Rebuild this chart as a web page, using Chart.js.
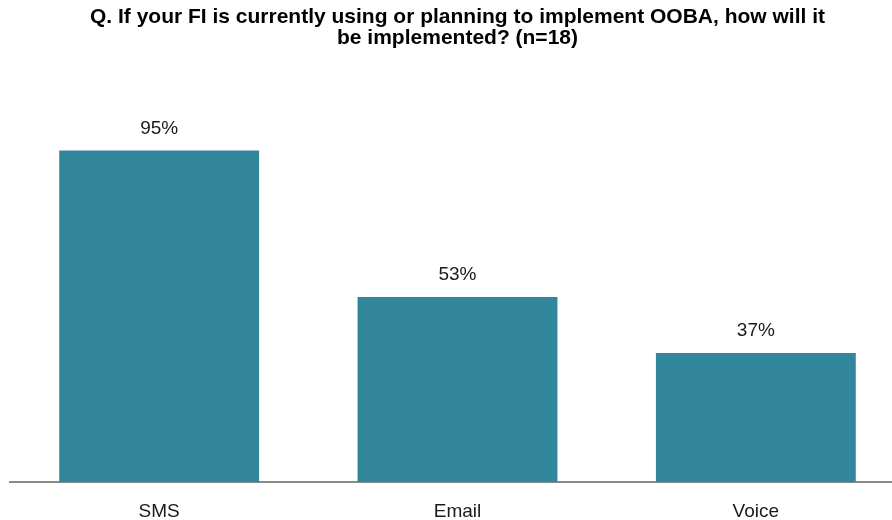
<!DOCTYPE html>
<html>
<head>
<meta charset="utf-8">
<script src="https://cdn.jsdelivr.net/npm/chart.js@4/dist/chart.umd.min.js"></script>
<style>
  html, body { margin: 0; padding: 0; background: #fff; overflow: hidden; }
  #wrap { width: 906px; height: 520px; }
</style>
</head>
<body>
<div id="wrap"><canvas id="ooba-canvas"></canvas></div>
<script>
var channels = ["SMS", "Email", "Voice"];
var shares = [95, 53, 37];
var titleLines = [
  "Q. If your FI is currently using or planning to implement OOBA, how will it",
  "be implemented? (n=18)",
];

var fontFamily = "'Liberation Sans', Arial, sans-serif";

// value labels above each bar
var valueLabels = {
  id: "valueLabels",
  afterDatasetsDraw: function (chart) {
    var ctx = chart.ctx;
    var meta = chart.getDatasetMeta(0);
    ctx.save();
    ctx.font = "19px " + fontFamily;
    ctx.fillStyle = "#1a1a1a";
    ctx.textAlign = "center";
    ctx.textBaseline = "middle";
    meta.data.forEach(function (bar, i) {
      ctx.fillText(shares[i] + "%", bar.x, bar.y - 22);
    });
    ctx.restore();
  },
};

new Chart(document.getElementById("ooba-canvas"), {
  type: "bar",
  data: {
    labels: channels,
    datasets: [
      {
        data: shares,
        backgroundColor: "#31869b",
        categoryPercentage: 1,
        barPercentage: 0.67,
      },
    ],
  },
  options: {
    responsive: true,
    maintainAspectRatio: false,
    animation: false,
    layout: { padding: { left: 10, right: 1, top: 0, bottom: -21 } },
    plugins: {
      legend: { display: false },
      tooltip: { enabled: false },
      title: {
        display: true,
        text: titleLines,
        color: "#000",
        font: { family: fontFamily, size: 21, weight: "bold", lineHeight: 1.0 },
        padding: { top: 7, bottom: 84 },
      },
    },
    scales: {
      y: { display: false, min: 0, max: 100 },
      x: {
        grid: { display: false, drawTicks: false },
        border: { color: "#8a8a8a", width: 2 },
        ticks: {
          color: "#1a1a1a",
          padding: 18,
          font: { family: fontFamily, size: 19 },
        },
      },
    },
  },
  plugins: [valueLabels],
});
</script>
</body>
</html>
